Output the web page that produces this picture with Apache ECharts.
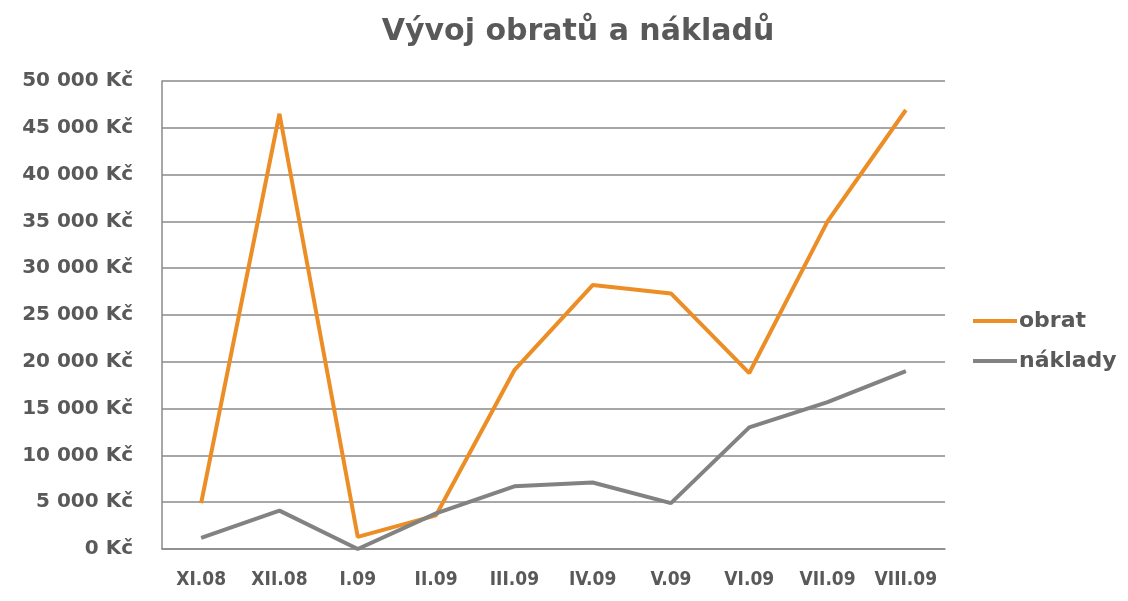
<!DOCTYPE html>
<html>
<head>
<meta charset="utf-8">
<script src="https://cdn.jsdelivr.net/npm/echarts@6/dist/echarts.min.js"></script>
<style>
html,body{margin:0;padding:0;background:#fff;}
#chart{width:1128px;height:601px;}
</style>
</head>
<body>
<div id="chart"></div>
<script>
const categories = ['XI.08','XII.08','I.09','II.09','III.09','IV.09','V.09','VI.09','VII.09','VIII.09'];
const obrat = [4900, 46500, 1300, 3600, 19100, 28200, 27300, 18800, 35000, 46900];
const naklady = [1200, 4100, 0, 3800, 6700, 7100, 4900, 13000, 15700, 19000];
const seriesNames = ['obrat', 'náklady'];

const chart = echarts.init(document.getElementById('chart'));
const txt = '#595959';
const gridColor = '#8a8a8a';
const wideFont = "'DejaVu Sans', 'Liberation Sans', sans-serif";
const narrowFont = "'DejaVu Sans Condensed', 'Liberation Sans Narrow', sans-serif";
chart.setOption({
  animation: false,
  backgroundColor: '#ffffff',
  title: {
    text: 'Vývoj obratů a nákladů',
    left: 573, textAlign: 'center',
    top: 12,
    textStyle: {fontFamily: wideFont, fontSize: 30, fontWeight: 'bold', color: txt}
  },
  legend: {
    orient: 'vertical',
    left: 968, top: 305,
    icon: 'rect', itemWidth: 44, itemHeight: 4, itemGap: 18,
    textStyle: {fontFamily: wideFont, fontSize: 22, fontWeight: 'bold', color: txt, lineHeight: 22, padding: [0,0,0,-3]},
    data: seriesNames
  },
  grid: {left: 162, right: 183, top: 81, bottom: 52, containLabel: false},
  xAxis: {
    type: 'category', data: categories, boundaryGap: true,
    axisLine: {lineStyle: {color: gridColor, width: 1.5}},
    axisTick: {show: false},
    axisLabel: {margin: 22, fontFamily: narrowFont, fontSize: 19, fontWeight: 'bold', color: txt, interval: 0}
  },
  yAxis: {
    type: 'value', min: 0, max: 50000, interval: 5000,
    axisLine: {show: true, lineStyle: {color: gridColor, width: 1.5}},
    axisTick: {show: false},
    splitLine: {lineStyle: {color: gridColor, width: 1.5}},
    axisLabel: {
      margin: 29, fontFamily: wideFont, fontSize: 20, fontWeight: 'bold', color: txt,
      formatter: v => (v >= 1000 ? Math.floor(v/1000) + ' ' + String(v % 1000).padStart(3,'0') : String(v)) + ' Kč'
    }
  },
  series: [
    {name: seriesNames[0], type: 'line', data: obrat, symbol: 'none', lineStyle: {color: '#EC8E25', width: 4}, itemStyle: {color: '#EC8E25'}},
    {name: seriesNames[1], type: 'line', data: naklady, symbol: 'none', lineStyle: {color: '#828282', width: 4}, itemStyle: {color: '#828282'}}
  ]
});
</script>
</body>
</html>
